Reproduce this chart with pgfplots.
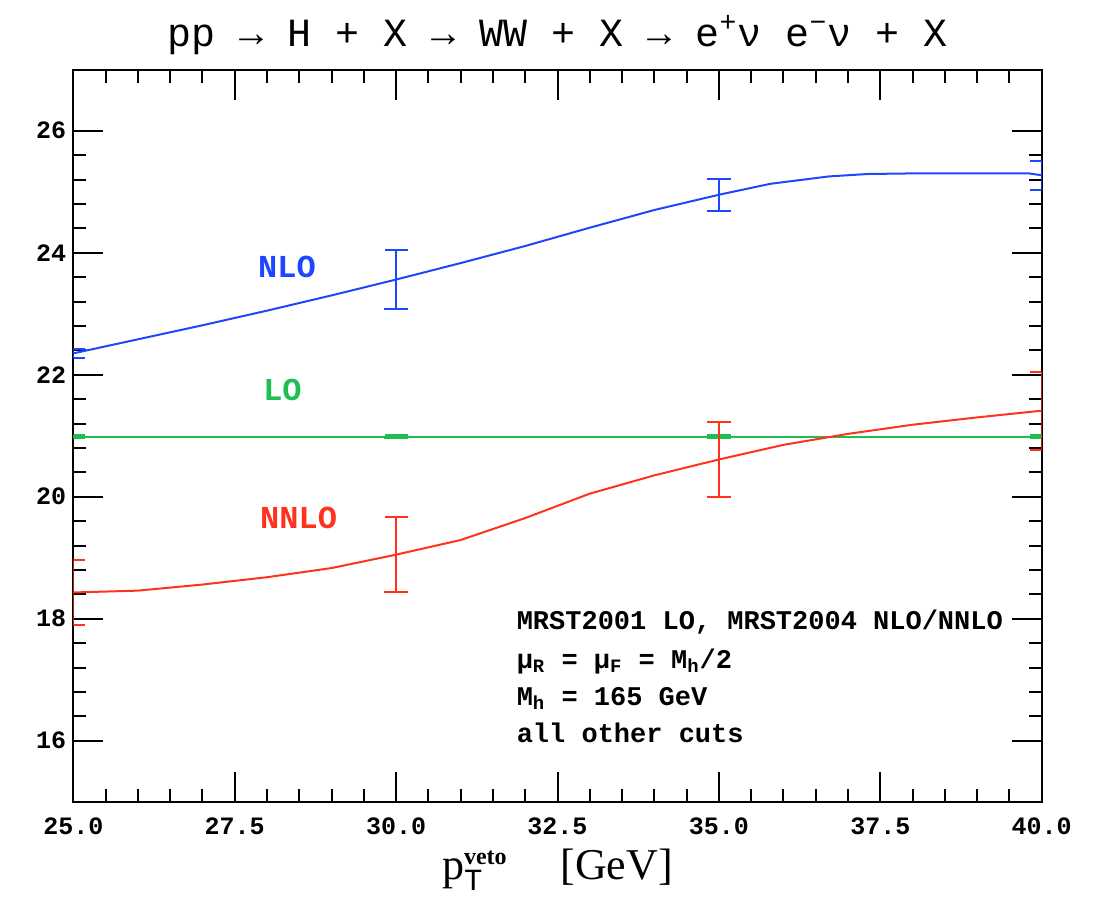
\documentclass[border=0pt]{standalone}
\usepackage{fontspec}
\setmainfont{Liberation Mono}
\newfontfamily\serifx{Liberation Serif}
\usepackage{pgfplots}
\pgfplotsset{compat=1.18}
\definecolor{cblue}{RGB}{30,70,255}
\definecolor{cred}{RGB}{255,50,30}
\definecolor{cgreen}{RGB}{30,190,80}
\begin{document}
\begin{tikzpicture}
\path[use as bounding box] (-36.65pt,-50.15pt) rectangle (510.35pt,400.85pt);
\begin{axis}[
  at={(0,0)}, anchor=south west,
  scale only axis, width=484.2pt, height=366pt,
  xmin=25, xmax=40, ymin=15, ymax=27,
  xtick={25,27.5,30,32.5,35,37.5,40}, ytick={16,18,20,22,24,26},
  minor x tick num=4, minor y tick num=4,
  tick align=inside,
  major tick length=15pt, minor tick length=6.5pt,
  axis line style={line width=1pt},
  every tick/.style={black, line width=1pt},
  /pgf/number format/assume math mode=true,
  xticklabel style={yshift=-4.5pt, /pgf/number format/.cd, fixed, fixed zerofill, precision=1},
  ticklabel style={font=\bfseries\fontsize{12.5}{12.5}\selectfont},
  title={pp → H + X → WW + X → e\textsuperscript{+}ν e\textsuperscript{−}ν + X},
  title style={at={(axis description cs:0.5,1)}, anchor=center, yshift=11.5pt, font=\fontsize{20}{20}\selectfont},
  xlabel={p$_{\mathrm{T}}^{\textbf{\fontsize{12}{12}\selectfont veto}}$\hspace{1.2em}[GeV]},
  xlabel style={at={(axis description cs:0.5,0)}, anchor=center, yshift=-34pt, font=\serifx\fontsize{22}{22}\selectfont},
]
% NLO curve
\addplot[cblue, line width=1pt, mark=none] coordinates {
(25,22.35) (26,22.58) (27,22.81) (28,23.05) (29,23.30) (30,23.56) (31,23.83)
(32,24.11) (33,24.41) (34,24.70) (35,24.95) (35.8,25.13) (36.7,25.25) (37.3,25.29)
(38,25.30) (39,25.30) (39.8,25.30) (40,25.27)};
\addplot[draw=none, mark=none,
  error bars/.cd, y dir=both, y explicit,
  error bar style={line width=1pt, draw=cblue},
  error mark options={rotate=90, mark size=5.8pt, line width=1pt, draw=cblue}]
  coordinates {(25,22.35) +- (0,0.07) (30,23.56) +- (0,0.48) (35,24.95) +- (0,0.26) (40,25.27) +- (0,0.24)};
% LO
\addplot[cgreen, line width=1pt, mark=none] coordinates {(25,20.98) (40,20.98)};
\addplot[draw=none, mark=none,
  error bars/.cd, y dir=both, y explicit,
  error bar style={line width=1pt, draw=cgreen},
  error mark options={rotate=90, mark size=5.8pt, line width=1.3pt, draw=cgreen}]
  coordinates {(25,20.98) +- (0,0.02) (30,20.98) +- (0,0.02) (35,20.98) +- (0,0.02) (40,20.98) +- (0,0.02)};
% NNLO
\addplot[cred, line width=1pt, mark=none] coordinates {
(25,18.43) (26,18.46) (27,18.56) (28,18.68) (29,18.83) (30,19.05) (31,19.29)
(32,19.65) (33,20.05) (34,20.35) (35,20.61) (36,20.85) (37,21.03) (38,21.18)
(39,21.30) (40,21.41)};
\addplot[draw=none, mark=none,
  error bars/.cd, y dir=both, y explicit,
  error bar style={line width=1pt, draw=cred},
  error mark options={rotate=90, mark size=5.8pt, line width=1pt, draw=cred}]
  coordinates {(25,18.43) +- (0,0.53) (30,19.05) +- (0,0.61) (35,20.61) +- (0,0.61) (40,21.41) +- (0,0.64)};
% labels
\node[cblue, font=\bfseries\fontsize{16}{16}\selectfont] at (axis cs:28.31,23.77) {NLO};
\node[cgreen, font=\bfseries\fontsize{16}{16}\selectfont] at (axis cs:28.24,21.75) {LO};
\node[cred, font=\bfseries\fontsize{16}{16}\selectfont] at (axis cs:28.49,19.65) {NNLO};
\node[anchor=west, font=\bfseries\fontsize{13.5}{13.5}\selectfont] at (axis cs:31.76,17.95) {MRST2001 LO, MRST2004 NLO/NNLO};
\node[anchor=west, font=\bfseries\fontsize{13.5}{13.5}\selectfont] at (axis cs:31.76,17.30) {μ\textsubscript{R} = μ\textsubscript{F} = M\textsubscript{h}/2};
\node[anchor=west, font=\bfseries\fontsize{13.5}{13.5}\selectfont] at (axis cs:31.76,16.69) {M\textsubscript{h} = 165 GeV};
\node[anchor=west, font=\bfseries\fontsize{13.5}{13.5}\selectfont] at (axis cs:31.76,16.13) {all other cuts};
\end{axis}
\end{tikzpicture}
\end{document}
